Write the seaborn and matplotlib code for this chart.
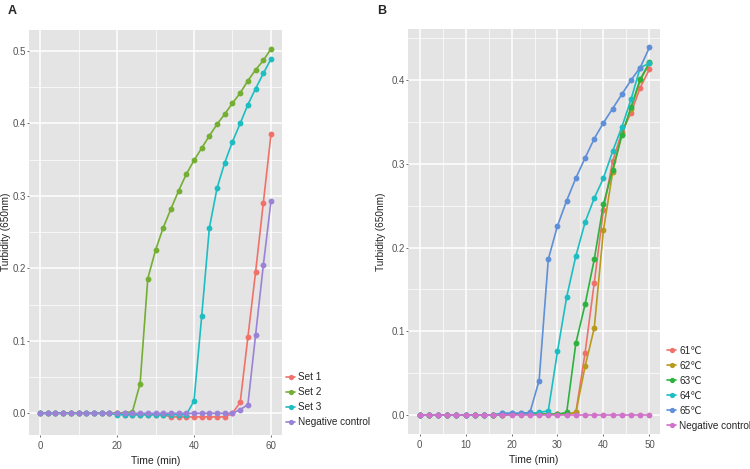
import numpy as np
import pandas as pd
import matplotlib
matplotlib.use("Agg")
import matplotlib.pyplot as plt
import seaborn as sns
from matplotlib.ticker import MultipleLocator

# ---------------- data ----------------
time_a = list(range(0, 61, 2))
set1 = [0.0]*11 + [-0.002]*6 + [-0.005]*8 + [0.0, 0.015, 0.105, 0.195, 0.290, 0.385]
set2 = [0.0]*11 + [0.001, 0.002, 0.041, 0.186, 0.225, 0.256, 0.282, 0.307, 0.330, 0.349,
                   0.366, 0.383, 0.399, 0.413, 0.428, 0.442, 0.459, 0.474, 0.487, 0.503]
set3 = [0.0]*10 + [-0.002]*10 + [0.017, 0.134, 0.256, 0.311, 0.346, 0.375, 0.400, 0.426,
                                 0.448, 0.469, 0.489]
neg_a = [0.0]*26 + [0.005, 0.012, 0.108, 0.204, 0.293]
labels_a = ["Set 1", "Set 2", "Set 3", "Negative control"]
colors_a = ["#F0716A", "#74AE33", "#1CBEC2", "#9A82D6"]

time_b = list(range(0, 51, 2))
t61 = [0.0]*10 + [0.001]*7 + [0.003, 0.074, 0.158, 0.245, 0.303, 0.338, 0.361, 0.391, 0.413]
t62 = [0.0]*10 + [0.001]*7 + [0.003, 0.058, 0.104, 0.221, 0.290, 0.335, 0.365, 0.400, 0.420]
t63 = [0.0]*10 + [0.001]*6 + [0.003, 0.086, 0.132, 0.186, 0.252, 0.293, 0.334, 0.368, 0.401, 0.421]
t64 = [0.0]*9 + [0.002]*4 + [0.003, 0.005, 0.076, 0.141, 0.190, 0.230, 0.259, 0.283, 0.315,
                             0.344, 0.377, 0.415, 0.420]
t65 = [0.0]*9 + [0.002]*3 + [0.003, 0.041, 0.186, 0.226, 0.256, 0.283, 0.307, 0.330, 0.349,
                             0.366, 0.383, 0.400, 0.415, 0.439]
neg_b = [0.0]*26
labels_b = ["61\u2103", "62\u2103", "63\u2103", "64\u2103", "65\u2103", "Negative control"]
colors_b = ["#F0716A", "#B79A1E", "#2DB13F", "#1CBEC2", "#5E8FD8", "#D072C8"]

df_a = pd.concat([pd.DataFrame({"Time": time_a, "Turbidity": v, "Group": l})
                  for v, l in zip([set1, set2, set3, neg_a], labels_a)], ignore_index=True)
df_b = pd.concat([pd.DataFrame({"Time": time_b, "Turbidity": v, "Group": l})
                  for v, l in zip([t61, t62, t63, t64, t65, neg_b], labels_b)], ignore_index=True)

# ---------------- style ----------------
sns.set_theme(style="darkgrid")
plt.rcParams['font.family'] = ['Liberation Sans', 'DejaVu Sans']

fig = plt.figure(figsize=(7.5, 4.69), dpi=100)
ax_a = fig.add_axes([29/750, 34/469, 253/750, 405/469])
ax_b = fig.add_axes([408/750, 35/469, 252/750, 405/469])


def style_axis(ax, xmaj, ymaj):
    ax.set_facecolor("#E4E4E4")
    for s in ax.spines.values():
        s.set_visible(False)
    ax.xaxis.set_major_locator(MultipleLocator(xmaj))
    ax.xaxis.set_minor_locator(MultipleLocator(xmaj/2))
    ax.yaxis.set_major_locator(MultipleLocator(ymaj))
    ax.yaxis.set_minor_locator(MultipleLocator(ymaj/2))
    ax.grid(which="major", color="white", linewidth=1.1)
    ax.grid(which="minor", color="white", linewidth=0.5)
    ax.set_axisbelow(True)
    ax.tick_params(which="major", length=1.5, width=0.6, color="#555555",
                   labelsize=7, labelcolor="#555555", pad=1, bottom=True, left=True)
    ax.tick_params(axis="x", which="major", pad=2.5)
    ax.tick_params(which="minor", length=0)
    ax.yaxis.set_major_formatter(matplotlib.ticker.FormatStrFormatter("%.1f"))
    ax.set_xlabel("Time (min)", fontsize=7.5, color="#222222", labelpad=4)
    ax.set_ylabel("")


sns.lineplot(data=df_a, x="Time", y="Turbidity", hue="Group", hue_order=labels_a,
             palette=colors_a, marker="o", markersize=4.2, markeredgewidth=0,
             linewidth=1.2, ax=ax_a)
sns.lineplot(data=df_b, x="Time", y="Turbidity", hue="Group", hue_order=labels_b,
             palette=colors_b, marker="o", markersize=4.2, markeredgewidth=0,
             linewidth=1.2, ax=ax_b)

ax_a.set_xlim(-2.86, 62.86)
ax_a.set_ylim(-0.030, 0.529)
ax_b.set_xlim(-2.52, 52.3)
ax_b.set_ylim(-0.0227, 0.461)
style_axis(ax_a, 20, 0.1)
style_axis(ax_b, 10, 0.1)

for ax, xa, ya in [(ax_a, 286/750, (469-399.5)/469), (ax_b, 667/750, (469-388)/469)]:
    h, l = ax.get_legend_handles_labels()
    ax.legend(h, l, loc="center left", bbox_to_anchor=(xa, ya),
              bbox_transform=fig.transFigure, frameon=False, fontsize=7.2,
              handlelength=0.9, handletextpad=0.3, labelspacing=0.5,
              borderpad=0, borderaxespad=0, markerscale=0.9)

fig.text(6/750, 1 - 232/469, "Turbidity (650nm)", rotation=90, fontsize=7.2,
         color="#222222", ha="center", va="center")
fig.text(381/750, 1 - 232/469, "Turbidity (650nm)", rotation=90, fontsize=7.2,
         color="#222222", ha="center", va="center")

fig.text(8/750, 1 - 11/469, "A", fontsize=9, fontweight="bold", va="center", ha="left")
fig.text(377/750, 1 - 11/469, "B", fontsize=9, fontweight="bold", va="center", ha="left")

fig.savefig("out.png", dpi=100, facecolor="white")
